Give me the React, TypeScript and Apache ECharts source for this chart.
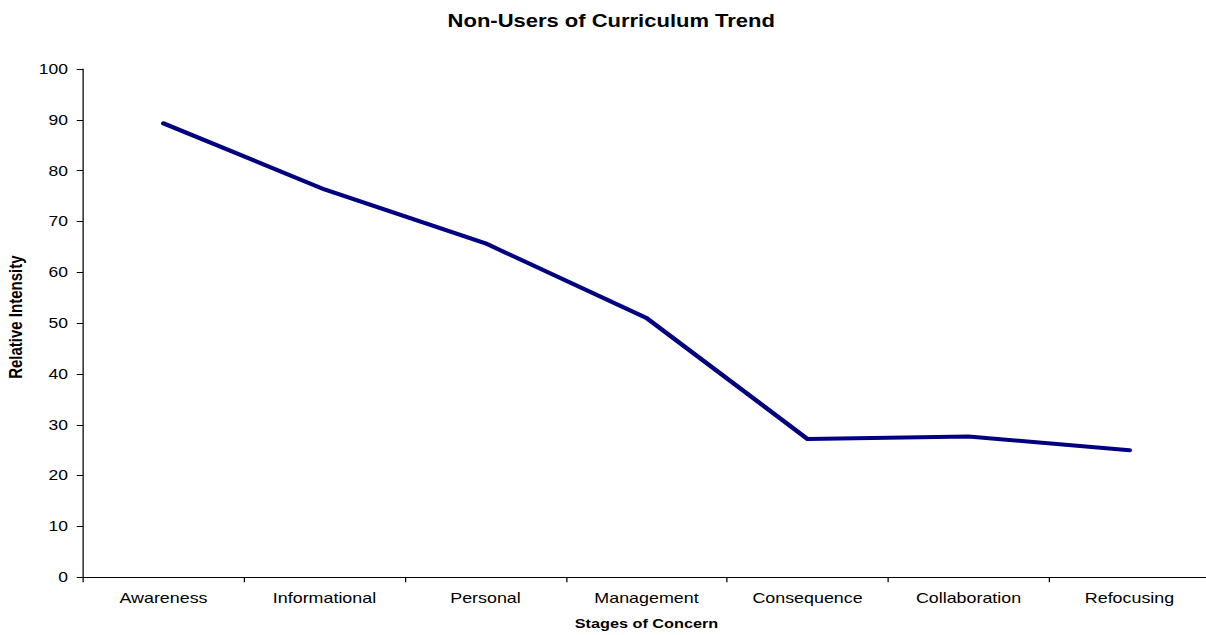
import React, { useEffect, useRef } from "react";
import * as echarts from "echarts";

const categories = ["Awareness", "Informational", "Personal", "Management", "Consequence", "Collaboration", "Refocusing"];
const intensity = [89.3, 76.3, 65.7, 51.0, 27.2, 27.7, 25.0];
const chartTitle = "Non-Users of Curriculum Trend";
const xName = "Stages of Concern";
const yName = "Relative Intensity";

const SX = 1.25;
const FONT = "Liberation Sans, Arial, Helvetica, sans-serif";

export default function App() {
  const ref = useRef<HTMLDivElement>(null);
  useEffect(() => {
    if (!ref.current) return;
    const chart = echarts.init(ref.current, null, { renderer: "svg" });
    chart.setOption({
      animation: false,
      backgroundColor: "#ffffff",
      title: {
        text: chartTitle,
        left: 605 / SX,
        textAlign: "center",
        top: 7,
        textStyle: { fontFamily: FONT, fontSize: 17.6, fontWeight: "bold", color: "#000" },
      },
      grid: {
        left: 83 / SX,
        right: 1010 - 1210 / SX,
        top: 69,
        bottom: 635 - 577.3,
        containLabel: false,
        outerBoundsMode: "none",
      },
      xAxis: {
        type: "category",
        data: categories,
        boundaryGap: true,
        name: xName,
        nameLocation: "middle",
        nameGap: 40,
        nameTextStyle: { fontFamily: FONT, fontSize: 13, fontWeight: "bold", color: "#000" },
        axisLine: { lineStyle: { color: "#000", width: 1 } },
        axisTick: { show: true, length: 5, lineStyle: { color: "#000" } },
        axisLabel: { fontFamily: FONT, fontSize: 14.3, color: "#000", margin: 13, interval: 0 },
        splitLine: { show: false },
      },
      yAxis: {
        type: "value",
        min: 0,
        max: 100,
        interval: 10,
        name: yName,
        nameLocation: "middle",
        nameRotate: 90,
        nameGap: 43,
        nameTextStyle: { fontFamily: FONT, fontSize: 15, fontWeight: "bold", color: "#000", padding: [0, 0, 0, 12] },
        axisLine: { show: true, lineStyle: { color: "#000", width: 1 } },
        axisTick: { show: true, length: 5, lineStyle: { color: "#000" } },
        axisLabel: { fontFamily: FONT, fontSize: 14, color: "#000", margin: 12 },
        splitLine: { show: false },
      },
      series: [
        {
          type: "line",
          data: intensity,
          symbol: "none",
          showSymbol: false,
          lineStyle: { color: "#000080", width: 4, cap: "round", join: "round" },
        },
      ],
    });
    return () => chart.dispose();
  }, []);
  return (
    <div style={{ position: "fixed", left: 0, top: 0, width: 1206, height: 635, overflow: "hidden", background: "#fff" }}>
      <div
        ref={ref}
        style={{ width: 1010, height: 635, transform: `scaleX(${SX})`, transformOrigin: "0 0" }}
      />
    </div>
  );
}
